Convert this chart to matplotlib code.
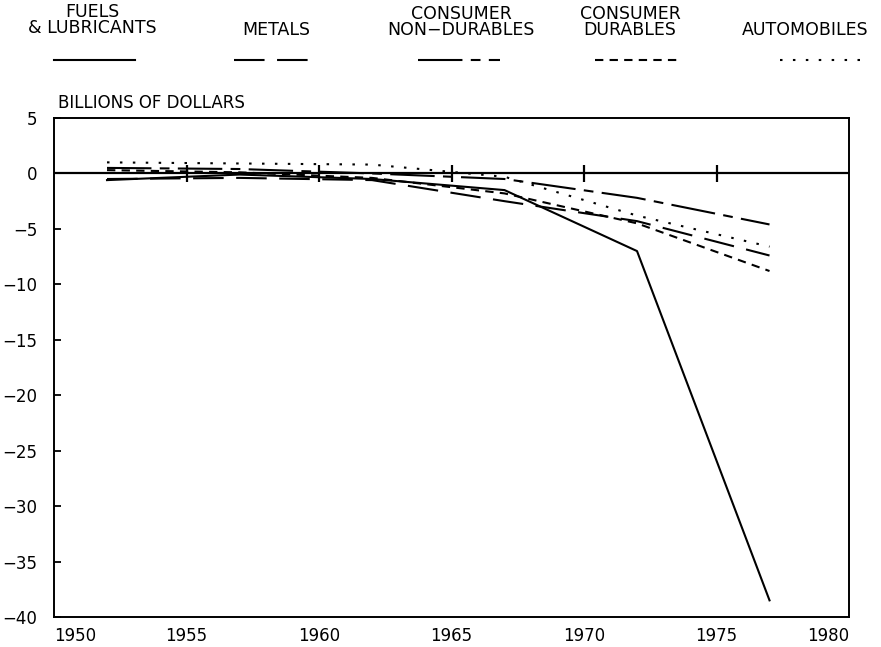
import matplotlib
matplotlib.use("Agg")
import matplotlib.pyplot as plt
from matplotlib.lines import Line2D

plt.rcParams["font.family"] = ["DejaVu Sans"]
plt.rcParams["lines.scale_dashes"] = False

years = [1952, 1957, 1962, 1967, 1972, 1977]
fuels = [-0.6, -0.1, -0.5, -1.5, -7.0, -38.5]
metals = [-0.5, -0.4, -0.6, -2.5, -4.3, -7.4]
non_durables = [0.5, 0.4, 0.0, -0.5, -2.2, -4.6]
durables = [0.3, 0.1, -0.4, -1.8, -4.5, -8.8]
autos = [1.0, 0.9, 0.8, -0.3, -3.8, -6.6]

series_names = ["FUELS\n& LUBRICANTS", "METALS", "CONSUMER\nNON\u2212DURABLES",
                "CONSUMER\nDURABLES", "AUTOMOBILES"]
series_values = [fuels, metals, non_durables, durables, autos]
styles = ["-", (0, (22, 9)), (0, (32, 6, 7, 6)), (0, (6, 4.5)), (0, (1.8, 7.5))]

xticks = [1950, 1955, 1960, 1965, 1970, 1975, 1980]
yticks = [5, 0, -5, -10, -15, -20, -25, -30, -35, -40]

fig = plt.figure(figsize=(8.81, 6.47), dpi=100)
ax = fig.add_axes([0.0613, 0.0464, 0.9024, 0.7712])

for vals, ls in zip(series_values, styles):
    ax.plot(years, vals, color="black", linewidth=1.5, linestyle=ls)

ax.axhline(0, color="black", linewidth=1.6)
ax.vlines(xticks[1:-1], -0.8, 0.8, color="black", linewidth=1.6)

ax.set_xlim(1950, 1980)
ax.set_ylim(-40, 5)
ax.set_xticks(xticks)
ax.set_xticklabels([str(y) for y in xticks], fontsize=12)
labs = ax.get_xticklabels()
labs[0].set_horizontalalignment("left")
labs[-1].set_horizontalalignment("right")
ax.set_yticks(yticks)
ax.set_yticklabels([str(y).replace("-", "\u2212") for y in yticks], fontsize=12)
ax.tick_params(axis="x", length=0, pad=7)
ax.tick_params(axis="y", direction="in", length=5, width=1.3, pad=12)
for s in ax.spines.values():
    s.set_linewidth(1.4)

fig.text(58 / 881, 1 - 103 / 647, "BILLIONS OF DOLLARS", fontsize=12,
         ha="left", va="center")

# legend across the top
label_x = [92, 276, 461, 630, 805]
label_y = [20, 30, 22, 22, 30]
sample_x = [(54, 135), (234, 315), (418, 500), (595, 678), (780, 860)]
for name, ls, lx, ly, (x0, x1) in zip(series_names, styles, label_x, label_y, sample_x):
    fig.text(lx / 881, 1 - ly / 647, name, fontsize=12.5, ha="center",
             va="center", linespacing=0.85)
    fig.add_artist(Line2D([x0 / 881, x1 / 881], [1 - 60 / 647, 1 - 60 / 647],
                          transform=fig.transFigure, color="black",
                          linewidth=1.5, linestyle=ls))

fig.savefig("out.png", dpi=100)
